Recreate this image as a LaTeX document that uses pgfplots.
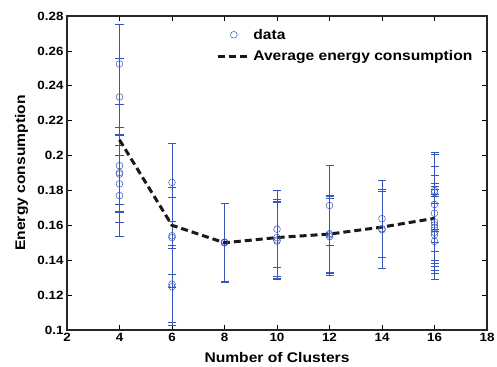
\documentclass[border=0pt]{standalone}
\usepackage{fontspec}
\setmainfont{Liberation Sans}[BoldFont={Liberation Sans Bold}, FakeStretch=1.12]
\usepackage{pgfplots}
\pgfplotsset{compat=1.18}
\usepackage{pgfplotstable}
\definecolor{mblue}{RGB}{55,85,190}
\pgfplotstableread{
x y e
4 0.2525 0.023
4 0.2336 0.022
4 0.1942 0.022
4 0.1902 0.022
4 0.1894 0.022
4 0.1838 0.022
4 0.1770 0.023
6 0.1846 0.0224
6 0.1540 0.022
6 0.1530 0.0286
6 0.1263 0.022
6 0.1248 0.022
8 0.1502 0.0225
8 0.1500 0.0225
8 0.1504 0.0225
10 0.1578 0.022
10 0.1530 0.022
10 0.1516 0.022
10 0.1510 0.022
12 0.1714 0.023
12 0.1552 0.022
12 0.1545 0.022
12 0.1535 0.022
14 0.1638 0.022
14 0.1580 0.0225
14 0.1575 0.022
16 0.1800 0.022
16 0.1788 0.022
16 0.1720 0.022
16 0.1669 0.022
16 0.1620 0.022
16 0.1602 0.022
16 0.1585 0.022
16 0.1560 0.022
16 0.1546 0.022
16 0.1508 0.022
}\datatab
\pgfplotstableread{
x y
4 0.209
6 0.160
8 0.150
10 0.153
12 0.155
14 0.159
16 0.164
}\avgtab
\begin{document}
\begin{tikzpicture}
\begin{axis}[
  name=ax,
  scale only axis,
  width=420bp, height=314bp,
  xmin=2, xmax=18, ymin=0.1, ymax=0.28,
  xtick={2,4,...,18},
  ytick={0.1,0.12,...,0.28},
  scaled y ticks=false,
  yticklabel style={/pgf/number format/fixed, /pgf/number format/precision=2},
  /pgf/number format/assume math mode=true,
  tick label style={font=\fontsize{12}{14}\selectfont\bfseries, black},
  label style={font=\fontsize{14}{16}\selectfont\bfseries},
  xlabel={Number of Clusters},
  ylabel={Energy consumption},
  xlabel style={at={(axis description cs:0.5,-0.089)}, anchor=center},
  ylabel style={at={(axis description cs:-0.108,0.5)}, anchor=center},
  axis line style={line width=1.5bp, black!85},
  tick style={line width=0.6pt, black},
  major tick length=5bp,
  tick align=inside,
  xtick pos=both, ytick pos=both,
  legend style={draw=none, fill=none, at={(0.348,0.972)}, anchor=north west,
    font=\fontsize{14}{16}\selectfont\bfseries, row sep=6bp},
  legend image code/.code={\draw[mark repeat=2,mark phase=2,#1] plot coordinates {(0bp,0bp) (16bp,0bp) (32bp,0bp)};},
  legend cell align=left,
]
\addplot[only marks, mark=o, mark size=3.4bp, mblue, mark options={line width=0.5pt, draw=mblue},
  error bars/.cd, y dir=both, y explicit,
  error bar style={line width=0.6pt, draw=mblue},
  error mark options={rotate=90, mark size=4bp, line width=0.6pt, draw=mblue}]
  table[x=x, y=y, y error=e]{\datatab};
\addlegendentry{data}
\addplot[black!90, line width=3bp, dash pattern=on 7bp off 4bp, no marks] table[x=x,y=y]{\avgtab};
\addlegendentry{Average energy consumption}
\end{axis}
\pgfresetboundingbox
\path ([shift={(-67bp,-37bp)}]ax.south west) rectangle ([shift={(10bp,16bp)}]ax.north east);
\end{tikzpicture}
\end{document}
